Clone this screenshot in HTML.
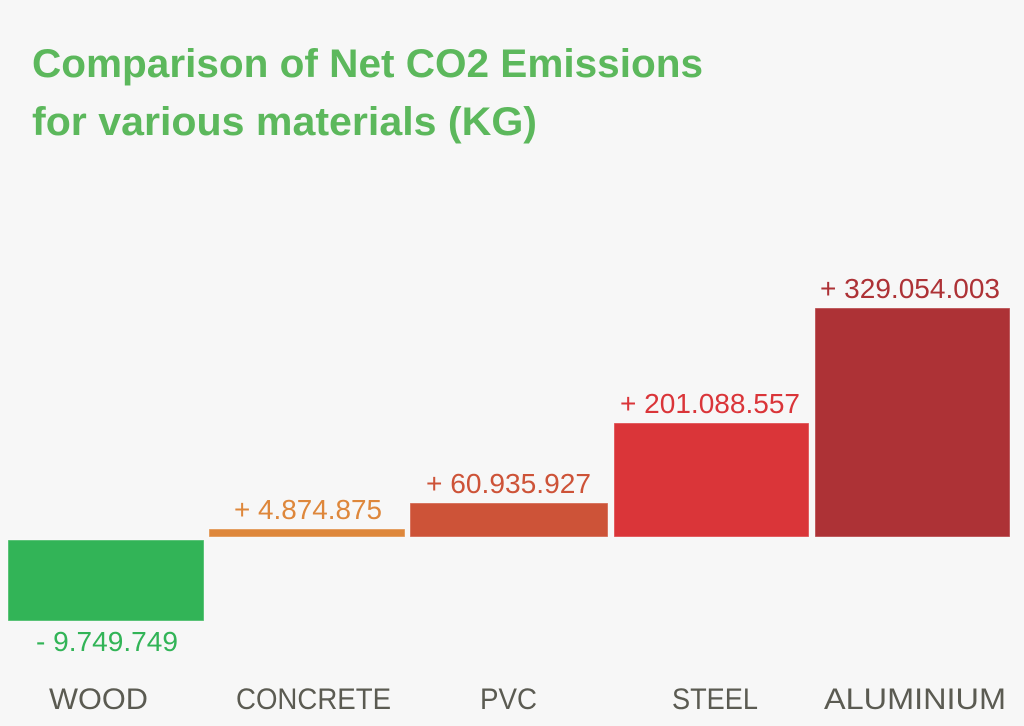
<!DOCTYPE html>
<html><head><meta charset="utf-8"><style>
html,body{margin:0;padding:0;background:#f7f7f7;}
svg{display:block;}
</style></head><body>
<svg width="1024" height="726" viewBox="0 0 1024 726" xmlns="http://www.w3.org/2000/svg">
<rect x="0" y="0" width="1024" height="726" fill="#f7f7f7"/>
<g font-family="Liberation Sans, sans-serif" font-weight="bold" fill="#5cb85c" font-size="40">
<text x="32" y="77" textLength="671" lengthAdjust="spacingAndGlyphs">Comparison of Net CO2 Emissions</text>
<text x="32" y="135" textLength="505" lengthAdjust="spacingAndGlyphs">for various materials (KG)</text>
</g>
<g stroke="#ffffff" stroke-opacity="0.4" stroke-width="1">
<rect x="8" y="540" width="196" height="81" fill="#32b457"/>
<rect x="209" y="529" width="196" height="8" fill="#de873b"/>
<rect x="410" y="503" width="198" height="34" fill="#cd5338"/>
<rect x="614" y="423" width="195" height="114" fill="#da3539"/>
<rect x="815" y="308" width="195" height="229" fill="#ad3236"/>
</g>
<g font-family="Liberation Sans, sans-serif" font-size="28">
<text x="36" y="651" fill="#32b457" textLength="142" lengthAdjust="spacingAndGlyphs">- 9.749.749</text>
<text x="234" y="519" fill="#de873b" textLength="148" lengthAdjust="spacingAndGlyphs">+ 4.874.875</text>
<text x="426" y="493" fill="#cd5338" textLength="165" lengthAdjust="spacingAndGlyphs">+ 60.935.927</text>
<text x="620" y="413" fill="#da3539" textLength="180" lengthAdjust="spacingAndGlyphs">+ 201.088.557</text>
<text x="820" y="298" fill="#ad3236" textLength="180" lengthAdjust="spacingAndGlyphs">+ 329.054.003</text>
</g>
<g font-family="Liberation Sans, sans-serif" font-size="30" fill="#5b5b52">
<text x="49" y="709" textLength="99" lengthAdjust="spacingAndGlyphs">WOOD</text>
<text x="236" y="709" textLength="155" lengthAdjust="spacingAndGlyphs">CONCRETE</text>
<text x="480" y="709" textLength="57" lengthAdjust="spacingAndGlyphs">PVC</text>
<text x="672" y="709" textLength="86" lengthAdjust="spacingAndGlyphs">STEEL</text>
<text x="824" y="709" textLength="182" lengthAdjust="spacingAndGlyphs">ALUMINIUM</text>
</g>
</svg>
</body></html>
